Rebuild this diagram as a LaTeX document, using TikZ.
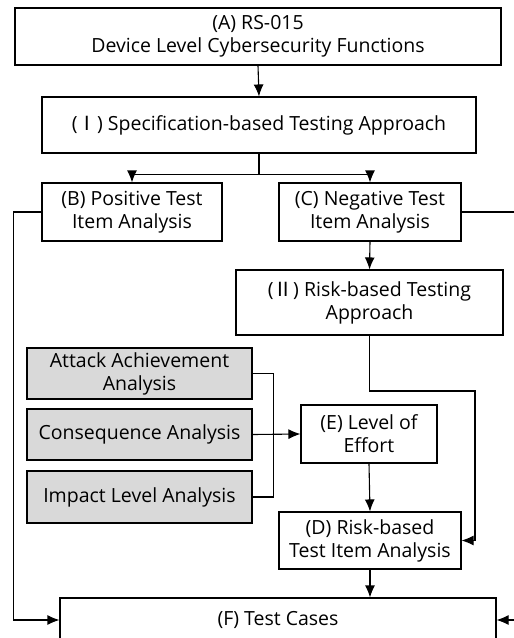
\documentclass[tikz,border=0pt]{standalone}
\usepackage{fontspec}
\setmainfont{Open Sans}
\newfontfamily\cjk{Noto Sans CJK KR}
\usetikzlibrary{arrows.meta}

\begin{document}
\begin{tikzpicture}[x=1pt,y=-1pt,line width=1.1pt,>={Latex[length=12pt,width=10pt]},
  box/.style={draw,align=center,inner sep=0pt,font=\fontsize{19.5}{23}\selectfont},
  graybox/.style={box,fill=black!15}]

\useasboundingbox (0,0) rectangle (514,638);
\clip (0,0) rectangle (514,638);

 \node[box,minimum width=486pt,minimum height=57pt] (A) at (258,36.5) {(A) RS-015\\Device Level Cybersecurity Functions};
 \node[box,minimum width=434pt,minimum height=56pt] (I) at (259,125) {({\cjk Ⅰ}) Specification-based Testing Approach};
 \node[box,minimum width=180pt,minimum height=58pt] (B) at (132,212) {(B) Positive Test\\Item Analysis};
 \node[box,minimum width=182pt,minimum height=58pt] (C) at (370,212) {(C) Negative Test\\Item Analysis};
 \node[box,minimum width=267pt,minimum height=65pt] (II) at (369.5,302.5) {({\cjk Ⅱ}) Risk-based Testing\\Approach};

 \node[graybox,minimum width=225pt,minimum height=51pt] (attack) at (139.5,373.5) {Attack Achievement\\Analysis};
 \node[graybox,minimum width=225pt,minimum height=51pt] (conseq) at (139.5,434.5) {Consequence Analysis};
 \node[graybox,minimum width=225pt,minimum height=52pt] (impact) at (139.5,497) {Impact Level Analysis};

 \node[box,minimum width=136pt,minimum height=58pt] (E) at (369,434) {(E) Level of\\Effort};
 \node[box,minimum width=182pt,minimum height=57pt] (D) at (370,540.5) {(D) Risk-based\\Test Item Analysis};
 \node[box,minimum width=436pt,minimum height=44pt] (F) at (278,620) {(F) Test Cases};

 \draw[->] (A.south) -- (I.north);
 \draw (I.south) -- ++(0,21) coordinate (split);
 \draw[->] (split) -| (B.north);
 \draw[->] (split) -| (C.north);
 \draw[->] (B.west) -- ++(-28,0) |- (F.west);
 \draw[->] (C.east) -- ++(70,0) |- (F.east);
 \draw[->] (C.south) -- (II.north);
 \draw[->] (II.south) |- (475,391) |- (D.east);

 \draw (attack.east) -- ++(21,0) |- (impact.east);
 \draw[->] (conseq.east) -- (E.west);
 \draw[->] (E.south) -- (D.north);
 \draw[->] (D.south) -- (D.south |- F.north);
\end{tikzpicture}
\end{document}
